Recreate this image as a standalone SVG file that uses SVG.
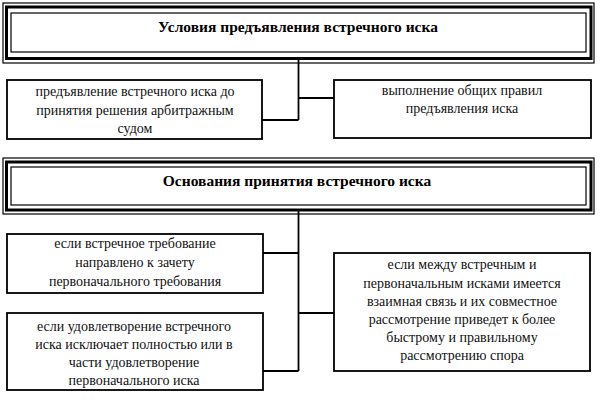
<svg xmlns="http://www.w3.org/2000/svg" width="600" height="400" viewBox="0 0 600 400">
<style>
.bg{fill:#fff}
.box{fill:#fff;stroke:#000;stroke-width:1.8}
.thin{fill:none;stroke:#000;stroke-width:1.2}
.thick{fill:#fff;stroke:#000;stroke-width:3}
.t{font-family:'Liberation Serif','DejaVu Serif',serif;font-size:14px;fill:#111;text-anchor:middle}
.h{font-family:'Liberation Serif','DejaVu Serif',serif;font-size:15.5px;font-weight:bold;fill:#000;text-anchor:middle}
.c{fill:none;stroke:#000;stroke-width:1.8}
</style>
<rect class="bg" x="0" y="0" width="600" height="400"/>
<g id="connectors">
<path class="c" d="M298.5 59 V120 M262 120 H298.5 M298.5 98 H334"/>
<path class="c" d="M298.5 211 V371 M263 253 H298.5 M298.5 313 H334 M263 371 H298.5"/>
</g>
<g id="title1">
<rect class="thin" x="3" y="3" width="591" height="60"/>
<rect class="thick" x="6.5" y="7" width="584.5" height="51.5"/>
<rect class="thin" x="11" y="13" width="575" height="39"/>
<text class="h" x="298" y="32">Условия предъявления встречного иска</text>
</g>
<g id="cond1">
<rect class="box" x="7" y="80" width="255" height="59"/>
<text class="t" x="135" y="96">предъявление встречного иска до</text>
<text class="t" x="135" y="115">принятия решения арбитражным</text>
<text class="t" x="135" y="133">судом</text>
</g>
<g id="cond2">
<rect class="box" x="334" y="80" width="257" height="58"/>
<text class="t" x="462" y="95">выполнение общих правил</text>
<text class="t" x="462" y="113">предъявления иска</text>
</g>
<g id="title2">
<rect class="thin" x="3" y="158" width="591" height="56"/>
<rect class="thick" x="6.5" y="162" width="584.5" height="48"/>
<rect class="thin" x="11" y="167" width="575" height="38"/>
<text class="h" x="297" y="186">Основания принятия встречного иска</text>
</g>
<g id="groundA">
<rect class="box" x="7" y="234" width="256" height="59"/>
<text class="t" x="135" y="248">если встречное требование</text>
<text class="t" x="135" y="267">направлено к зачету</text>
<text class="t" x="135" y="286">первоначального требования</text>
</g>
<g id="groundB">
<rect class="box" x="7" y="313" width="256" height="77"/>
<text class="t" x="134" y="331">если удовлетворение встречного</text>
<text class="t" x="134" y="349">иска исключает полностью  или в</text>
<text class="t" x="134" y="367">части удовлетворение</text>
<text class="t" x="134" y="385">первоначального иска</text>
</g>
<g id="groundC">
<rect class="box" x="334" y="253" width="256" height="118"/>
<text class="t" x="462" y="269">если между встречным и</text>
<text class="t" x="462" y="288">первоначальным исками имеется</text>
<text class="t" x="462" y="306">взаимная связь и их совместное</text>
<text class="t" x="462" y="324">рассмотрение приведет к более</text>
<text class="t" x="462" y="342">быстрому и правильному</text>
<text class="t" x="462" y="360">рассмотрению  спора</text>
</g>
</svg>
